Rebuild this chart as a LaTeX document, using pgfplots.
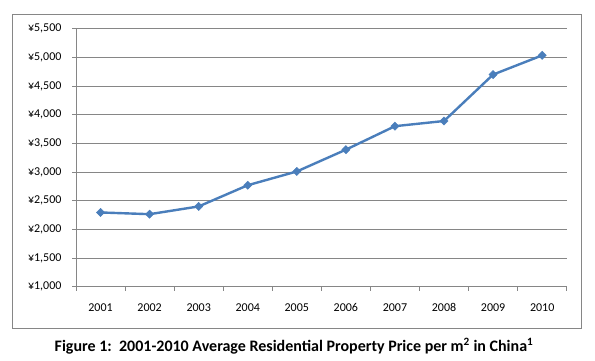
\documentclass[border=0pt]{standalone}
\usepackage{fontspec}
\setmainfont{Carlito}
\usepackage{pgfplots}
\pgfplotsset{compat=1.18}
\definecolor{gridgray}{RGB}{134,134,134}
\definecolor{lineblue}{RGB}{74,126,187}
\begin{document}
\begin{tikzpicture}[x=1pt,y=1pt]
\useasboundingbox (0,0) rectangle (595,360);
\draw[gridgray, line width=0.8pt] (12.7,31.7) rectangle (581,345.3);
\begin{axis}[
  at={(76pt,73.3pt)}, anchor=south west,
  scale only axis, width=490.7pt, height=258pt,
  xmin=0, xmax=10, ymin=1000, ymax=5500,
  axis lines*=left,
  axis line style={gridgray, line width=0.8pt},
  xtick={0,1,...,10},
  xticklabels={2001,2002,2003,2004,2005,2006,2007,2008,2009,2010},
  x tick label as interval,
  ytick={1000,1500,...,5500},
  yticklabels={{¥1,000},{¥1,500},{¥2,000},{¥2,500},{¥3,000},{¥3,500},{¥4,000},{¥4,500},{¥5,000},{¥5,500}},
  ymajorgrids,
  grid style={gridgray, line width=0.8pt},
  tick style={gridgray, line width=0.8pt},
  tick align=outside,
  major tick length=4pt,
  ticklabel style={font=\fontsize{12}{14}\selectfont, text=black},
  yticklabel style={xshift=-7pt},
  xticklabel style={yshift=-9pt},
  clip=false,
]
\addplot[lineblue, line width=2.4pt, mark=square*, mark size=2.9pt, mark options={solid, fill=lineblue, line width=0.5pt, rotate=45}]
coordinates {(0.5,2295) (1.5,2265) (2.5,2400) (3.5,2770) (4.5,3010) (5.5,3390) (6.5,3800) (7.5,3890) (8.5,4700) (9.5,5035)};
\end{axis}
\node[font=\bfseries\fontsize{16}{18}\selectfont, anchor=center] at (294,13.5) {Figure 1:\ \ 2001-2010 Average Residential Property Price per m\textsuperscript{2} in China\textsuperscript{1}};
\end{tikzpicture}
\end{document}
